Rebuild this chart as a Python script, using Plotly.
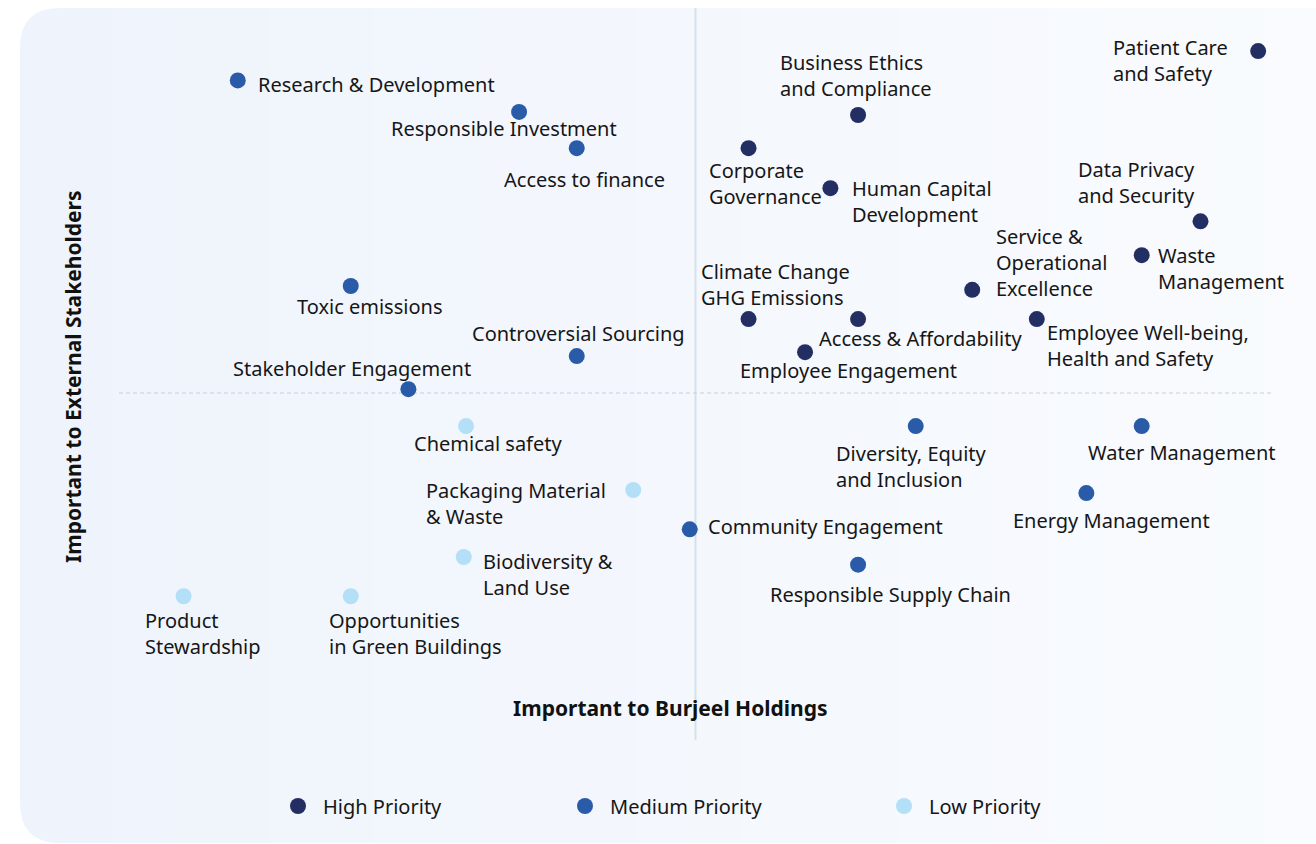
import plotly.graph_objects as go

# materiality topics, scored 0-10 on both axes (5 = quadrant split)
high_topics = ["Patient Care<br>and Safety", "Business Ethics<br>and Compliance", "Corporate<br>Governance",
               "Human Capital<br>Development", "Data Privacy<br>and Security", "Waste<br>Management",
               "Service &<br>Operational<br>Excellence", "Climate Change<br>GHG Emissions",
               "Access & Affordability", "Employee Well-being,<br>Health and Safety", "Employee Engagement"]
high_x = [9.88, 6.41, 5.46, 6.17, 9.38, 8.87, 7.40, 5.46, 6.41, 7.96, 5.95]
high_y = [9.44, 8.61, 8.18, 7.66, 7.23, 6.79, 6.34, 5.96, 5.96, 5.96, 5.53]

medium_topics = ["Research & Development", "Responsible Investment", "Access to finance", "Toxic emissions",
                 "Controversial Sourcing", "Stakeholder Engagement", "Diversity, Equity<br>and Inclusion",
                 "Water Management", "Energy Management", "Community Engagement", "Responsible Supply Chain"]
medium_x = [1.03, 3.47, 3.97, 2.01, 3.97, 2.51, 6.91, 8.87, 8.39, 4.95, 6.41]
medium_y = [9.06, 8.65, 8.18, 6.39, 5.48, 5.05, 4.57, 4.57, 3.70, 3.23, 2.77]

low_topics = ["Chemical safety", "Packaging Material<br>& Waste", "Biodiversity &<br>Land Use",
              "Product<br>Stewardship", "Opportunities<br>in Green Buildings"]
low_x = [3.01, 4.46, 2.99, 0.56, 2.01]
low_y = [4.57, 3.74, 2.87, 2.36, 2.36]

# label placement relative to its dot: (xanchor, xshift px, yshift px)
label_pos = {
    "Patient Care<br>and Safety": ("right", -28, -9.5),
    "Business Ethics<br>and Compliance": ("left", -80, 40),
    "Corporate<br>Governance": ("left", -42, -35),
    "Human Capital<br>Development": ("left", 20, -13.5),
    "Data Privacy<br>and Security": ("left", -125, 39),
    "Waste<br>Management": ("left", 14, -13.5),
    "Service &<br>Operational<br>Excellence": ("left", 22, 27),
    "Climate Change<br>GHG Emissions": ("left", -50, 34.5),
    "Access & Affordability": ("left", -41, -19),
    "Employee Well-being,<br>Health and Safety": ("left", 8, -26),
    "Employee Engagement": ("left", -67, -18),
    "Research & Development": ("left", 18, -4),
    "Responsible Investment": ("left", -130, -17),
    "Access to finance": ("left", -75, -31),
    "Toxic emissions": ("left", -56, -21),
    "Controversial Sourcing": ("left", -107, 23),
    "Stakeholder Engagement": ("left", -177, 21),
    "Diversity, Equity<br>and Inclusion": ("left", -82, -40.5),
    "Water Management": ("left", -56, -26),
    "Energy Management": ("left", -75, -27),
    "Community Engagement": ("left", 16, 3),
    "Responsible Supply Chain": ("left", -90, -30),
    "Chemical safety": ("left", -54, -17),
    "Packaging Material<br>& Waste": ("right", -25, -13.5),
    "Biodiversity &<br>Land Use": ("left", 17, -17),
    "Product<br>Stewardship": ("left", -41, -37),
    "Opportunities<br>in Green Buildings": ("left", -24, -37),
}

W, H = 1316, 844
ML, MR, MT, MB = 119, 44, 8, 66
PW, PH = W - ML - MR, H - MT - MB


def px(x):
    return (x - ML) / PW


def py(y):
    return (H - MB - y) / PH


FONT = "Noto Sans"
TXT = "#161616"

fig = go.Figure()

groups = [
    ("High Priority", high_topics, high_x, high_y, "#232f63", "legend", 273),
    ("Medium Priority", medium_topics, medium_x, medium_y, "#2a5ba8", "legend2", 560),
    ("Low Priority", low_topics, low_x, low_y, "#b3e0f7", "legend3", 879),
]

for name, topics, xs, ys, color, leg, _ in groups:
    fig.add_trace(go.Scatter(
        x=xs, y=ys, mode="markers", name=name, text=topics, legend=leg, showlegend=True,
        marker=dict(size=16, color=color),
        hovertemplate="%{text}<extra></extra>",
    ))

annotations = []
for name, topics, xs, ys, *_ in groups:
    for t, x, y in zip(topics, xs, ys):
        xa, dx, dy = label_pos[t]
        annotations.append(dict(
            x=x, y=y, text=t, showarrow=False, xanchor=xa, yanchor="middle",
            xshift=dx, yshift=dy, align="left",
            font=dict(family=FONT, size=20, color=TXT),
        ))

annotations.append(dict(
    x=px(670), y=py(708), xref="paper", yref="paper", showarrow=False,
    text="<b>Important to Burjeel Holdings</b>", xanchor="center", yanchor="middle",
    font=dict(family=FONT, size=21, color="#111111"),
))
annotations.append(dict(
    x=px(73), y=py(377), xref="paper", yref="paper", showarrow=False, textangle=-90,
    text="<b>Important to External Stakeholders</b>", xanchor="center", yanchor="middle",
    font=dict(family=FONT, size=21, color="#111111"),
))

# card background: rounded rect + soft left-to-right gradient
x0, x1, y0, y1, r = 20, 1340, 8, 843, 40
path = (f"M {px(x0 + r)},{py(y0)} L {px(x1 - r)},{py(y0)} Q {px(x1)},{py(y0)} {px(x1)},{py(y0 + r)} "
        f"L {px(x1)},{py(y1 - r)} Q {px(x1)},{py(y1)} {px(x1 - r)},{py(y1)} "
        f"L {px(x0 + r)},{py(y1)} Q {px(x0)},{py(y1)} {px(x0)},{py(y1 - r)} "
        f"L {px(x0)},{py(y0 + r)} Q {px(x0)},{py(y0)} {px(x0 + r)},{py(y0)} Z")
shapes = [dict(type="path", path=path, xref="paper", yref="paper",
               fillcolor="#eff4fc", line=dict(width=0), layer="below")]
c0, c1 = (239, 244, 252), (249, 251, 254)
n = 24
sx0, sx1 = 60, W
for i in range(n):
    t = (i + 0.5) / n
    col = "rgb(%d,%d,%d)" % tuple(round(a + (b - a) * t) for a, b in zip(c0, c1))
    shapes.append(dict(type="rect", xref="paper", yref="paper",
                       x0=px(sx0 + (sx1 - sx0) * i / n), x1=px(sx0 + (sx1 - sx0) * (i + 1) / n + 1),
                       y0=py(y1), y1=py(y0), fillcolor=col, line=dict(width=0), layer="below"))

# quadrant dividers
shapes.append(dict(type="line", xref="x", yref="paper", x0=5, x1=5, y0=py(740), y1=py(8),
                   line=dict(color="#d8dfeb", width=2), layer="below"))
shapes.append(dict(type="line", xref="x", yref="y", x0=0, x1=10, y0=5, y1=5,
                   line=dict(color="#c6cfdc", width=1, dash="4px,3px"), layer="below"))

axis = dict(range=[0, 10], showgrid=False, zeroline=False, showticklabels=False,
            ticks="", showline=False, fixedrange=True)

leg_common = dict(orientation="h", yanchor="middle", y=py(806), xanchor="left", itemwidth=40,
                  bgcolor="rgba(0,0,0,0)", font=dict(family=FONT, size=20, color=TXT))

fig.update_layout(
    width=W, height=H,
    margin=dict(l=ML, r=MR, t=MT, b=MB),
    paper_bgcolor="white", plot_bgcolor="rgba(0,0,0,0)",
    xaxis=axis, yaxis=axis,
    shapes=shapes, annotations=annotations,
    showlegend=True,
    legend=dict(leg_common, x=px(groups[0][6])),
    legend2=dict(leg_common, x=px(groups[1][6])),
    legend3=dict(leg_common, x=px(groups[2][6])),
    font=dict(family=FONT),
)

fig.write_html("out.html", config={"displayModeBar": False},
               post_script="document.body.style.margin='0';")
